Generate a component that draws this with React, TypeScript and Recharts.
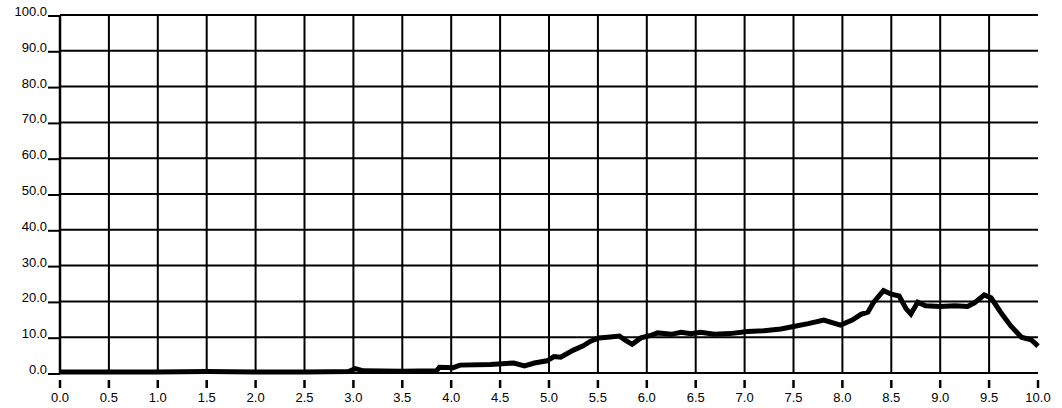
import { CartesianGrid, Line, LineChart, XAxis, YAxis } from "recharts";

const xs = [
  0, 0.5, 1.0, 1.5, 2.0, 2.5, 2.95, 3.02, 3.1, 3.5, 3.85, 3.88, 4.02, 4.09, 4.4, 4.64, 4.75, 4.85,
  4.98, 5.05, 5.12, 5.25, 5.35, 5.42, 5.51, 5.6, 5.72, 5.8, 5.85, 5.94, 6.05, 6.11, 6.25, 6.35,
  6.45, 6.55, 6.69, 6.85, 7.03, 7.2, 7.37, 7.5, 7.65, 7.81, 7.98, 8.1, 8.19, 8.26, 8.32, 8.42,
  8.5, 8.58, 8.65, 8.7, 8.77, 8.85, 9.0, 9.15, 9.28, 9.35, 9.45, 9.52, 9.62, 9.72, 9.83, 9.93, 10.0,
];
const ys = [
  0.3, 0.3, 0.3, 0.4, 0.3, 0.3, 0.4, 1.2, 0.6, 0.5, 0.6, 1.6, 1.5, 2.2, 2.4, 2.8, 2.0, 2.8,
  3.4, 4.6, 4.4, 6.4, 7.6, 8.8, 9.8, 10.0, 10.3, 8.8, 8.0, 9.8, 10.6, 11.2, 10.8, 11.4,
  11.0, 11.4, 10.8, 11.0, 11.6, 11.8, 12.3, 13.0, 13.8, 14.8, 13.4, 14.8, 16.4, 17.0, 19.8, 23.0,
  22.0, 21.5, 18.0, 16.5, 19.8, 18.8, 18.6, 18.8, 18.6, 19.6, 21.8, 21.0, 16.9, 13.2, 10.0, 9.3, 7.5,
];
const xTicks = [0, 0.5, 1, 1.5, 2, 2.5, 3, 3.5, 4, 4.5, 5, 5.5, 6, 6.5, 7, 7.5, 8, 8.5, 9, 9.5, 10];
const yTicks = [0, 10, 20, 30, 40, 50, 60, 70, 80, 90, 100];

const data = xs.map((x, i) => ({ x, y: ys[i] }));

const font = "'Liberation Sans', Arial, sans-serif";

function XTick({ x, y, payload }: any) {
  return (
    <g>
      <line x1={x} x2={x} y1={y + 7} y2={y + 15} stroke="#000" strokeWidth={2.5} />
      <text x={x} y={y + 29} textAnchor="middle" fontSize={13} fontFamily={font} fill="#000">
        {Number(payload.value).toFixed(1)}
      </text>
    </g>
  );
}

function YTick({ x, y, payload }: any) {
  return (
    <g>
      <line x1={x - 12} x2={x} y1={y + 1} y2={y + 1} stroke="#000" strokeWidth={2} />
      <text x={x - 13} y={y + 1} textAnchor="end" fontSize={13} fontFamily={font} fill="#000">
        {Number(payload.value).toFixed(1)}
      </text>
    </g>
  );
}

// no vertical rule at the right end (x = 10)
const verticalLines = ({ xAxis, offset }: any) => {
  const inner = xTicks.slice(0, -1);
  if (xAxis && typeof xAxis.scale === "function") return inner.map((t) => xAxis.scale(t));
  return inner.map((t) => offset.left + (t / 10) * offset.width);
};

export default function App() {
  return (
    <div style={{ position: "absolute", left: 0, top: 0, background: "#fff" }}>
      <LineChart
        width={1062}
        height={408}
        data={data}
        margin={{ top: 15, right: 24, bottom: 0, left: 0 }}
      >
        <CartesianGrid stroke="#000" strokeWidth={2} verticalCoordinatesGenerator={verticalLines} />
        <XAxis
          type="number"
          dataKey="x"
          domain={[0, 10]}
          ticks={xTicks}
          height={35}
          tickLine={false}
          tickSize={0}
          tickMargin={0}
          axisLine={{ stroke: "#000", strokeWidth: 2 }}
          tick={<XTick />}
          interval={0}
        />
        <YAxis
          type="number"
          domain={[0, 100]}
          ticks={yTicks}
          width={60}
          tickLine={false}
          tickSize={0}
          tickMargin={0}
          axisLine={{ stroke: "#000", strokeWidth: 2.5 }}
          tick={<YTick />}
          interval={0}
        />
        <Line
          type="linear"
          dataKey="y"
          stroke="#000"
          strokeWidth={5}
          dot={false}
          isAnimationActive={false}
        />
      </LineChart>
    </div>
  );
}
